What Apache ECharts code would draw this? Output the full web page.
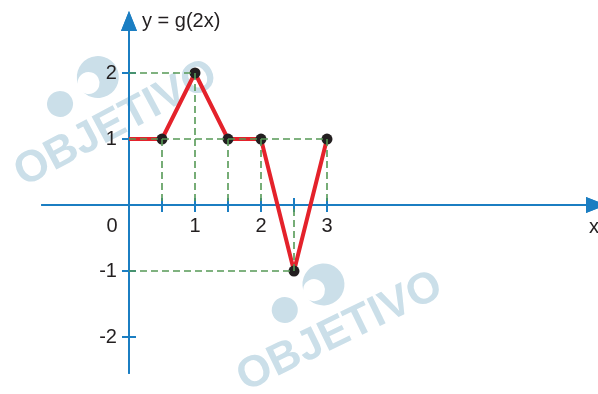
<!DOCTYPE html>
<html><head><meta charset="utf-8">
<script src="https://cdn.jsdelivr.net/npm/echarts@6/dist/echarts.min.js"></script>
<style>html,body{margin:0;padding:0;background:#fff}#c{width:598px;height:394px}</style>
</head><body><div id="c"></div>
<script>
// ---- data ----
const xValues = [0, 0.5, 1, 1.5, 2, 2.5, 3];
const yValues = [1, 1, 2, 1, 1, -1, 1];
const dotX = [0.5, 1, 1.5, 2, 2.5, 3];
const dotY = [1, 2, 1, 1, -1, 1];
const xTicks = [0.5, 1, 1.5, 2, 2.5, 3];
const xTickLabels = [1, 2, 3];
const yTicks = [-2, -1, 1, 2];
const yTickLabels = [-2, -1, 1, 2];
const titleText = 'y = g(2x)';
const xName = 'x';
const originLabel = '0';
const watermarkText = 'OBJETIVO';

// ---- styles ----
const AXIS = '#1b7ec2';
const RED = '#e4222b';
const GREEN = '#559955';
const INK = '#231f20';
const WM = '#cbdfe9';
const FONT = 'Liberation Sans, Arial, sans-serif';

const X_MIN = -1.318, X_MAX = 7.076, Y_MIN = -2.545, Y_MAX = 2.788;
const GRID = { left: 42, right: 2, top: 21, bottom: 21 };
const W = 598, H = 394;
const gridW = W - GRID.left - GRID.right, gridH = H - GRID.top - GRID.bottom;
// offsets so that the axes cross at the origin
const leftOff = -(gridW * (0 - X_MIN) / (X_MAX - X_MIN));
const rightOff = -(gridW * (X_MAX - 0) / (X_MAX - X_MIN));
const bottomOff = -(gridH * (0 - Y_MIN) / (Y_MAX - Y_MIN));
const topOff = -(gridH * (Y_MAX - 0) / (Y_MAX - Y_MIN));

const linePts = xValues.map((x, i) => [x, yValues[i]]);
const dotPts = dotX.map((x, i) => [x, dotY[i]]);

const guides = [];
dotPts.forEach(p => guides.push([{ coord: [p[0], p[1]] }, { coord: [p[0], 0] }]));
const levels = {};
dotPts.forEach(p => { levels[p[1]] = Math.max(levels[p[1]] ?? -Infinity, p[0]); });
Object.keys(levels).forEach(y => guides.push([{ coord: [0, +y] }, { coord: [levels[y], +y] }]));

const chart = echarts.init(document.getElementById('c'), null, { renderer: 'canvas' });

function xAx(position, offset, withLabels) {
  return {
    type: 'value', min: X_MIN, max: X_MAX, position: position, offset: offset,
    splitLine: { show: false },
    axisLine: { show: true, onZero: false, symbol: ['none', 'triangle'], symbolSize: [16, 20],
      lineStyle: { color: AXIS, width: 2 } },
    axisTick: { show: true, inside: false, length: 7, customValues: xTicks, lineStyle: { color: AXIS, width: 2 } },
    axisLabel: { show: withLabels, customValues: xTickLabels, margin: 11, color: INK, fontSize: 20, fontFamily: FONT },
    name: withLabels ? xName : '', nameLocation: 'end', nameGap: -7,
    nameTextStyle: { color: INK, fontSize: 20, fontFamily: FONT, align: 'left', verticalAlign: 'top', padding: [12, 0, 0, 0] }
  };
}
function yAx(position, offset, withLabels) {
  return {
    type: 'value', min: Y_MIN, max: Y_MAX, position: position, offset: offset,
    splitLine: { show: false },
    axisLine: { show: true, onZero: false, symbol: ['none', 'triangle'], symbolSize: [16, 20],
      lineStyle: { color: AXIS, width: 2 } },
    axisTick: { show: true, inside: false, length: 7, customValues: yTicks, lineStyle: { color: AXIS, width: 2 } },
    axisLabel: { show: withLabels, customValues: yTickLabels, margin: 12, color: INK, fontSize: 20, fontFamily: FONT },
    name: withLabels ? titleText : '', nameLocation: 'end', nameGap: 0,
    nameTextStyle: { color: INK, fontSize: 20, fontFamily: FONT, align: 'left', verticalAlign: 'middle', padding: [0, 0, 0, 13] }
  };
}

chart.setOption({
  animation: false,
  backgroundColor: '#fff',
  grid: Object.assign({ containLabel: false, outerBoundsMode: 'none' }, GRID),
  xAxis: [xAx('bottom', bottomOff, true), xAx('top', topOff, false)],
  yAxis: [yAx('left', leftOff, true), yAx('right', rightOff, false)],
  series: [
    { type: 'line', data: [], xAxisIndex: 0, yAxisIndex: 0, z: 1, silent: true,
      markLine: { silent: true, symbol: ['none', 'none'], label: { show: false },
        lineStyle: { color: GREEN, width: 1.6, type: [7, 4], opacity: 1 }, data: guides } },
    { type: 'line', data: linePts, xAxisIndex: 0, yAxisIndex: 0, z: 3, showSymbol: false,
      lineStyle: { color: RED, width: 4, join: 'round' } },
    { type: 'scatter', data: dotPts, xAxisIndex: 0, yAxisIndex: 0, z: 4, symbolSize: 11,
      itemStyle: { color: INK, opacity: 1 } }
  ]
});

const o = chart.convertToPixel({ xAxisIndex: 0, yAxisIndex: 0 }, [0, 0]);

function watermark(cx, cy, rot) {
  return {
    type: 'group', x: cx, y: cy, rotation: rot, z: -10, silent: true,
    children: [
      { type: 'text', z: -10, style: { text: watermarkText, x: 0, y: 0, align: 'center', verticalAlign: 'middle',
        fill: WM, font: 'bold 44px ' + FONT } },
      { type: 'circle', z: -10, shape: { cx: 6, cy: -50, r: 21 }, style: { fill: WM } },
      { type: 'circle', z: -10, shape: { cx: -5, cy: -49, r: 11 }, style: { fill: '#fff' } },
      { type: 'circle', z: -10, shape: { cx: -40, cy: -44, r: 13 }, style: { fill: WM } }
    ]
  };
}

chart.setOption({
  graphic: [
    { type: 'text', x: o[0] - 17, y: o[1] + 21, z: 10,
      style: { text: originLabel, align: 'center', verticalAlign: 'middle', fill: INK, font: '20px ' + FONT } },
    watermark(116, 124, 28 * Math.PI / 180),
    watermark(340, 332, 26 * Math.PI / 180)
  ]
});
</script>
</body></html>
